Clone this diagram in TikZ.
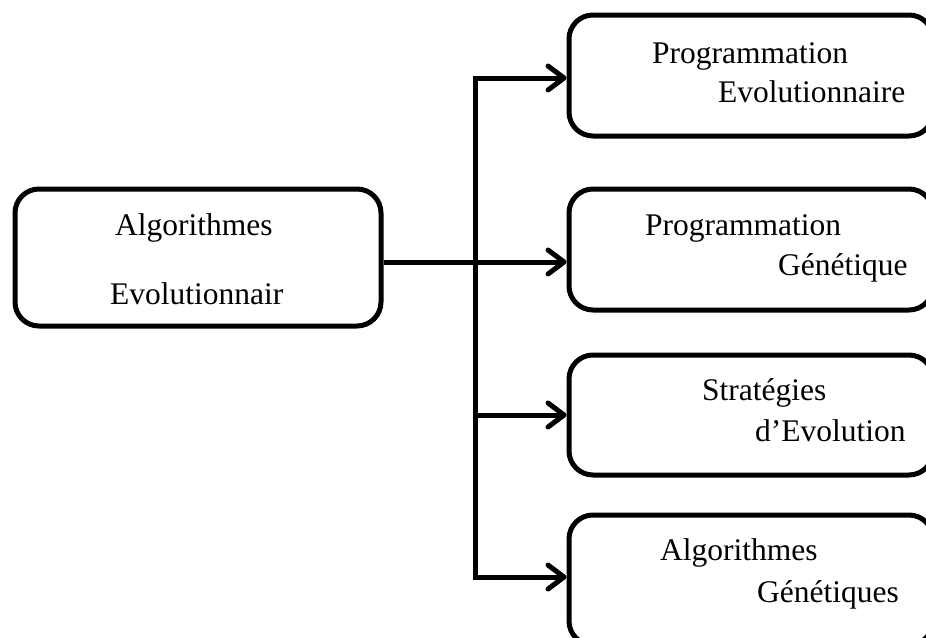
\documentclass[tikz,border=0pt]{standalone}
\usepackage{fontspec}
\setmainfont{Liberation Serif}
\usetikzlibrary{arrows.meta}
\begin{document}
\begin{tikzpicture}[x=1pt,y=-1pt,
  box/.style={draw=black, line width=5pt, rounded corners=24pt, fill=white, inner sep=0pt},
  txt/.style={anchor=base west, inner sep=0pt, font=\fontsize{31.5}{38}\selectfont},
  link/.style={draw=black, line width=5pt, line join=miter},
  barb/.tip={Straight Barb[length=16pt, width=24pt, line width=5pt, round]}]
\useasboundingbox (0,0) rectangle (926,637);

% boxes
\node[box, minimum width=366pt, minimum height=137pt] (src) at (198,257.5) {};
\node[box, minimum width=364pt, minimum height=121pt] (pe) at (751,75.5) {};
\node[box, minimum width=364pt, minimum height=121pt] (pg) at (751,249.5) {};
\node[box, minimum width=364pt, minimum height=120pt] (se) at (751,415) {};
\node[box, minimum width=364pt, minimum height=130pt] (ag) at (751,580) {};

% labels
\node[txt] (src1) at (115,235) {Algorithmes};
\node[txt] (src2) at (110,304) {Evolutionnair};
\node[txt] (pe1) at (652,63) {Programmation};
\node[txt] (pe2) at (718,102) {Evolutionnaire};
\node[txt] (pg1) at (645,235) {Programmation};
\node[txt] (pg2) at (778,275) {Génétique};
\node[txt] (se1) at (702,400) {Stratégies};
\node[txt] (se2) at (755,441) {d’Evolution};
\node[txt] (ag1) at (660,560) {Algorithmes};
\node[txt] (ag2) at (757,602) {Génétiques};

% connectors
\coordinate (t1) at (475,78);
\coordinate (j) at (475,262);
\coordinate (t3) at (475,415);
\coordinate (t4) at (475,577);
\draw[link, barb-barb] (t1 -| pe.west) -- (t1) -- (t4) -- (t4 -| ag.west);
\draw[link, -barb] (src.east |- j) -- (j -| pg.west);
\draw[link, -barb] (t3) -- (t3 -| se.west);
\end{tikzpicture}
\end{document}
